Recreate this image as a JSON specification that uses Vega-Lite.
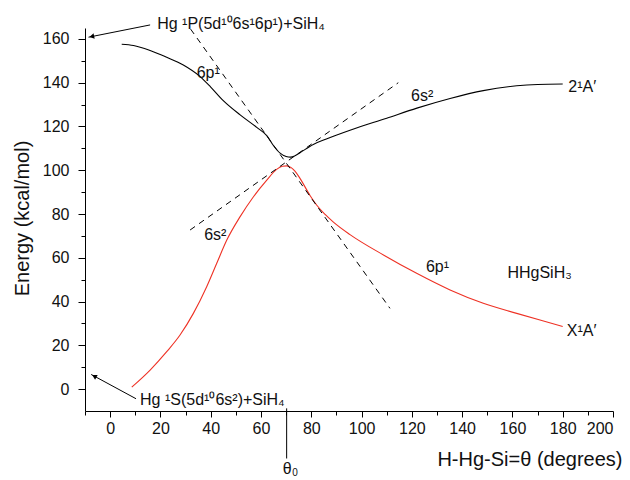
{
  "$schema": "https://vega.github.io/schema/vega-lite/v6.json",
  "width": 528,
  "height": 383,
  "autosize": {"type": "none"},
  "padding": {"left": 85, "top": 28, "right": 17, "bottom": 69},
  "background": "white",
  "config": {"view": {"stroke": null}, "font": "Liberation Sans"},
  "datasets": {
    "upper": [
      {"t": 4.6, "e": 157.6}, {"t": 9.3, "e": 157.0}, {"t": 15.9, "e": 154.7}, {"t": 22.5, "e": 151.6},
      {"t": 29.1, "e": 148.1}, {"t": 35.8, "e": 142.8}, {"t": 40.0, "e": 138.0}, {"t": 45.0, "e": 131.8},
      {"t": 51.7, "e": 125.3}, {"t": 58.3, "e": 119.6}, {"t": 62.3, "e": 115.8}, {"t": 65.0, "e": 111.2},
      {"t": 67.6, "e": 107.8}, {"t": 70.0, "e": 106.3}, {"t": 71.8, "e": 106.0}, {"t": 73.5, "e": 106.6},
      {"t": 75.5, "e": 108.0}, {"t": 80.8, "e": 111.8}, {"t": 86.0, "e": 114.3}, {"t": 95.4, "e": 118.3},
      {"t": 110.0, "e": 123.8}, {"t": 122.0, "e": 128.4}, {"t": 135.2, "e": 132.8}, {"t": 148.4, "e": 136.4},
      {"t": 161.7, "e": 138.6}, {"t": 170.0, "e": 139.2}, {"t": 180.0, "e": 139.4}
    ],
    "lower": [
      {"t": 8.6, "e": 0.9}, {"t": 15.9, "e": 8.7}, {"t": 22.5, "e": 17.1}, {"t": 27.8, "e": 24.7},
      {"t": 33.1, "e": 34.6}, {"t": 38.4, "e": 46.8}, {"t": 42.4, "e": 57.5}, {"t": 46.4, "e": 68.1},
      {"t": 51.7, "e": 78.8}, {"t": 57.0, "e": 87.9}, {"t": 62.3, "e": 95.5}, {"t": 66.2, "e": 100.4},
      {"t": 68.5, "e": 101.8}, {"t": 70.2, "e": 102.0}, {"t": 72.0, "e": 101.2}, {"t": 73.5, "e": 99.6},
      {"t": 75.5, "e": 96.3}, {"t": 79.5, "e": 88.5}, {"t": 82.2, "e": 84.0}, {"t": 85.5, "e": 79.8},
      {"t": 88.8, "e": 76.3}, {"t": 95.4, "e": 70.6}, {"t": 108.7, "e": 61.3}, {"t": 121.9, "e": 52.9},
      {"t": 135.2, "e": 45.3}, {"t": 148.4, "e": 39.2}, {"t": 161.7, "e": 34.6}, {"t": 172.0, "e": 31.2},
      {"t": 180.0, "e": 28.6}
    ],
    "dashes": [
      {"id": "6p", "t": 32.0, "e": 164.5}, {"id": "6p", "t": 111.3, "e": 36.9},
      {"id": "6s", "t": 31.8, "e": 72.7}, {"id": "6s", "t": 114.6, "e": 140.0}
    ],
    "arrows": [
      {"id": "top", "t": 15.9, "e": 166.4}, {"id": "top", "t": -8.6, "e": 160.8},
      {"id": "bottom", "t": 10.3, "e": -4.4}, {"id": "bottom", "t": -7.55, "e": 6.7}
    ],
    "labels": [
      {"t": 18.7, "e": 164.6, "label": "Hg ¹P(5d¹⁰6s¹6p¹)+SiH₄"},
      {"t": 11.9, "e": -7.3, "label": "Hg ¹S(5d¹⁰6s²)+SiH₄"},
      {"t": 34.4, "e": 142.0, "label": "6p¹"},
      {"t": 119.7, "e": 131.8, "label": "6s²"},
      {"t": 182.2, "e": 135.9, "label": "2¹A′"},
      {"t": 37.4, "e": 68.1, "label": "6s²"},
      {"t": 125.6, "e": 53.6, "label": "6p¹"},
      {"t": 158.0, "e": 50.6, "label": "HHgSiH₃"},
      {"t": 181.6, "e": 24.2, "label": "X¹A′"},
      {"t": 68.7, "e": -38.6, "label": "θ"}
    ]
  },
  "resolve": {"axis": {"x": "independent", "y": "independent"}},
  "layer": [
    {
      "data": {"name": "upper"},
      "mark": {"type": "line", "color": "black", "strokeWidth": 1.1, "interpolate": "monotone"},
      "encoding": {
        "x": {"field": "t", "type": "quantitative",
              "scale": {"domain": [-10, 200], "nice": false, "zero": false},
              "axis": {"orient": "bottom", "values": [0, 20, 40, 60, 80, 100, 120, 140, 160, 180, 200],
                       "grid": false, "tickSize": 6, "tickColor": "black", "domainColor": "black",
                       "labelFontSize": 16, "labelPadding": 3, "labelColor": "#111", "labelFont": "Liberation Sans",
                       "title": "H-Hg-Si=θ (degrees)", "titleFontSize": 20, "titleFontWeight": "normal",
                       "titleFont": "Liberation Sans", "titleColor": "#111",
                       "titleX": 537, "titleY": 54, "titleAlign": "right", "titleBaseline": "alphabetic"}},
        "y": {"field": "e", "type": "quantitative",
              "scale": {"domain": [-10, 165], "nice": false, "zero": false},
              "axis": {"orient": "left", "values": [0, 20, 40, 60, 80, 100, 120, 140, 160],
                       "grid": false, "tickSize": 7, "tickColor": "black", "domainColor": "black",
                       "labelFontSize": 16, "labelPadding": 9, "labelColor": "#111", "labelFont": "Liberation Sans",
                       "title": "Energy (kcal/mol)", "titleFontSize": 20, "titleFontWeight": "normal",
                       "titleFont": "Liberation Sans", "titleColor": "#111",
                       "titleAngle": 270, "titleX": -57, "titleY": 190, "titleAlign": "center", "titleBaseline": "alphabetic"}}
      }
    },
    {
      "data": {"name": "lower"},
      "mark": {"type": "line", "color": "#ee3124", "strokeWidth": 1.1, "interpolate": "monotone"},
      "encoding": {
        "x": {"field": "t", "type": "quantitative",
              "scale": {"domain": [-10, 200], "nice": false, "zero": false},
              "axis": {"orient": "bottom", "values": [-10, 10, 30, 50, 70, 90, 110, 130, 150, 170, 190],
                       "grid": false, "tickSize": 4, "tickColor": "black", "domain": false, "labels": false, "title": null}},
        "y": {"field": "e", "type": "quantitative",
              "scale": {"domain": [-10, 165], "nice": false, "zero": false},
              "axis": {"orient": "left", "values": [10, 30, 50, 70, 90, 110, 130, 150],
                       "grid": false, "tickSize": 4, "tickColor": "black", "domain": false, "labels": false, "title": null}}
      }
    },
    {
      "data": {"name": "dashes"},
      "mark": {"type": "line", "color": "black", "strokeWidth": 1, "strokeDash": [6, 5]},
      "encoding": {
        "x": {"field": "t", "type": "quantitative", "scale": {"domain": [-10, 200], "nice": false, "zero": false}, "axis": null},
        "y": {"field": "e", "type": "quantitative", "scale": {"domain": [-10, 165], "nice": false, "zero": false}, "axis": null},
        "detail": {"field": "id"}
      }
    },
    {
      "data": {"name": "arrows"},
      "mark": {"type": "line", "color": "black", "strokeWidth": 1},
      "encoding": {
        "x": {"field": "t", "type": "quantitative", "scale": {"domain": [-10, 200], "nice": false, "zero": false}, "axis": null},
        "y": {"field": "e", "type": "quantitative", "scale": {"domain": [-10, 165], "nice": false, "zero": false}, "axis": null},
        "detail": {"field": "id"}
      }
    },
    {
      "data": {"values": [{"t": -7.3, "e": 161.1}]},
      "mark": {"type": "point", "shape": "triangle-left", "filled": true, "color": "black", "size": 30, "angle": 348, "opacity": 1},
      "encoding": {
        "x": {"field": "t", "type": "quantitative", "scale": {"domain": [-10, 200], "nice": false, "zero": false}, "axis": null},
        "y": {"field": "e", "type": "quantitative", "scale": {"domain": [-10, 165], "nice": false, "zero": false}, "axis": null}
      }
    },
    {
      "data": {"values": [{"t": -6.3, "e": 5.9}]},
      "mark": {"type": "point", "shape": "triangle-left", "filled": true, "color": "black", "size": 30, "angle": 28.5, "opacity": 1},
      "encoding": {
        "x": {"field": "t", "type": "quantitative", "scale": {"domain": [-10, 200], "nice": false, "zero": false}, "axis": null},
        "y": {"field": "e", "type": "quantitative", "scale": {"domain": [-10, 165], "nice": false, "zero": false}, "axis": null}
      }
    },
    {
      "data": {"values": [{"t": 70.2, "e": -8.8, "e2": -31.7}]},
      "mark": {"type": "rule", "color": "black", "strokeWidth": 1},
      "encoding": {
        "x": {"field": "t", "type": "quantitative", "scale": {"domain": [-10, 200], "nice": false, "zero": false}, "axis": null},
        "y": {"field": "e", "type": "quantitative", "scale": {"domain": [-10, 165], "nice": false, "zero": false}, "axis": null},
        "y2": {"field": "e2"}
      }
    },
    {
      "data": {"name": "labels"},
      "mark": {"type": "text", "align": "left", "baseline": "alphabetic", "fontSize": 16, "color": "#111", "font": "Liberation Sans"},
      "encoding": {
        "x": {"field": "t", "type": "quantitative", "scale": {"domain": [-10, 200], "nice": false, "zero": false}, "axis": null},
        "y": {"field": "e", "type": "quantitative", "scale": {"domain": [-10, 165], "nice": false, "zero": false}, "axis": null},
        "text": {"field": "label"}
      }
    },
    {
      "data": {"values": [{"t": 72.4, "e": -39.9, "label": "0"}]},
      "mark": {"type": "text", "align": "left", "baseline": "alphabetic", "fontSize": 10, "color": "#111", "font": "Liberation Sans"},
      "encoding": {
        "x": {"field": "t", "type": "quantitative", "scale": {"domain": [-10, 200], "nice": false, "zero": false}, "axis": null},
        "y": {"field": "e", "type": "quantitative", "scale": {"domain": [-10, 165], "nice": false, "zero": false}, "axis": null},
        "text": {"field": "label"}
      }
    }
  ]
}
